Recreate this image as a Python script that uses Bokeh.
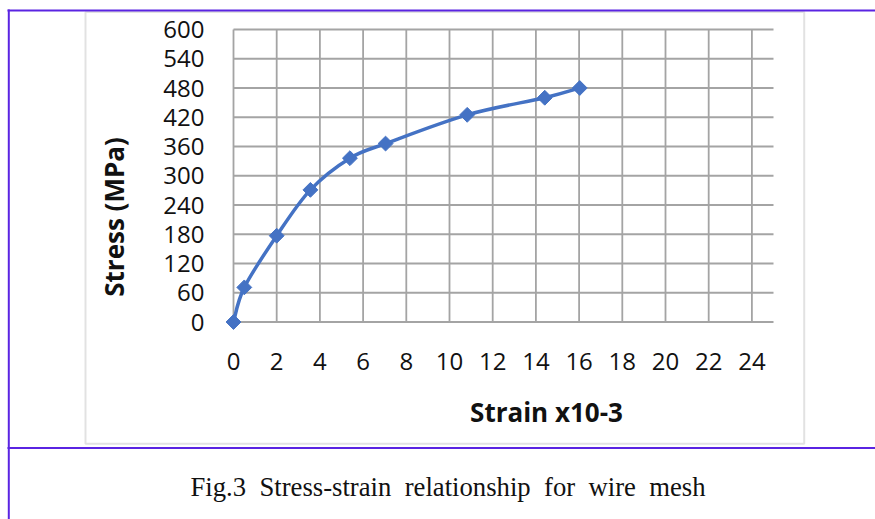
import numpy as np
from bokeh.plotting import figure
from bokeh.models import Range1d, FixedTicker, BoxAnnotation, Label, LinearAxis
from bokeh.embed import file_html
from bokeh.resources import INLINE

# ---- data ----
strain = [0.0, 0.5, 2.0, 3.56, 5.39, 7.04, 10.82, 14.41, 16.03]
stress = [0, 71, 177, 271, 336, 366, 425, 460, 480]
x_ticks = [0, 2, 4, 6, 8, 10, 12, 14, 16, 18, 20, 22, 24]
y_ticks = [0, 60, 120, 180, 240, 300, 360, 420, 480, 540, 600]
x_max = 25
y_max = 600
x_title = "Strain x10-3"
y_title = "Stress (MPa)"
caption_words = ["Fig.3", "Stress-strain", "relationship", "for", "wire", "mesh"]

# ---- layout (pixels) ----
W, H = 875, 519
PX_X0, PX_X1 = 233.0, 773.0     # pixel columns of x = 0 and x = x_max
PX_Y0, PX_Y1 = 321.5, 29.0      # pixel rows of y = 0 and y = y_max
sx = (PX_X1 - PX_X0) / x_max
sy = (PX_Y0 - PX_Y1) / y_max

BLUE = "#4472C4"
GRID = "#a4a4a4"
PURPLE = "#5a24e2"
TXT = "#111111"

p = figure(width=W, height=H, output_backend="svg", toolbar_location=None,
           x_axis_location=None, y_axis_location=None,
           x_range=Range1d(-PX_X0 / sx, x_max + (W - PX_X1) / sx),
           y_range=Range1d(-(H - PX_Y0) / sy, y_max + PX_Y1 / sy),
           min_border=0)
p.outline_line_color = None
p.grid.visible = False
p.background_fill_color = "white"
p.border_fill_color = "white"

xaxis = LinearAxis(fixed_location=0, ticker=FixedTicker(ticks=x_ticks))
yaxis = LinearAxis(fixed_location=0, ticker=FixedTicker(ticks=y_ticks))
for ax in (xaxis, yaxis):
    ax.axis_line_color = None
    ax.major_tick_line_color = None
    ax.minor_tick_line_color = None
    ax.major_label_text_font = "Open Sans"
    ax.major_label_text_font_size = "24px"
    ax.major_label_text_color = TXT
xaxis.major_label_standoff = 25
yaxis.major_label_standoff = 23
p.add_layout(xaxis, "below")
p.add_layout(yaxis, "left")

# grid lines drawn from the tick arrays
p.segment(x0=x_ticks, y0=[0] * len(x_ticks), x1=x_ticks, y1=[y_max] * len(x_ticks),
          line_color=GRID, line_width=1.8)
p.segment(x0=[0] * len(y_ticks), y0=y_ticks, x1=[x_max] * len(y_ticks), y1=y_ticks,
          line_color=GRID, line_width=1.8)

# smoothed line (Catmull-Rom style Bezier through the points)
P = np.column_stack([np.array(strain, float), np.array(stress, float)])
E = np.vstack([P[0], P, P[-1]])
c0 = P[:-1] + (E[2:-1] - E[:-3]) / 6.0
c1 = P[1:] - (E[3:] - E[1:-2]) / 6.0
p.bezier(x0=P[:-1, 0], y0=P[:-1, 1], x1=P[1:, 0], y1=P[1:, 1],
         cx0=c0[:, 0], cy0=c0[:, 1], cx1=c1[:, 0], cy1=c1[:, 1],
         line_color=BLUE, line_width=3.5)
p.scatter(strain, stress, marker="square", size=10.5, angle=np.pi / 4,
          fill_color=BLUE, line_color=BLUE)

# axis titles
p.add_layout(Label(x=113, y=216.5, x_units="canvas", y_units="canvas", text=y_title,
                   angle=np.pi / 2, text_align="center", text_baseline="alphabetic",
                   text_font="Open Sans", text_font_style="bold", text_font_size="26px",
                   text_color=TXT))
p.add_layout(Label(x=546, y=411, x_units="canvas", y_units="canvas", text=x_title,
                   text_align="center", text_baseline="alphabetic",
                   text_font="Open Sans", text_font_style="bold", text_font_size="26px",
                   text_color=TXT))

# chart box and outer frame
def cbox(l, r, t, b, **kw):
    return BoxAnnotation(left=l, right=r, top=t, bottom=b,
                         left_units="canvas", right_units="canvas",
                         top_units="canvas", bottom_units="canvas", **kw)

p.add_layout(cbox(85, 803.7, 11.5, 443.3, fill_color=None, fill_alpha=0,
                  line_color="#a0a0a0", line_width=2))
for (l, r, t, b) in [(7, W, 9, 11), (7.3, 9.3, 9, H), (7, W, 446.5, 448.5)]:
    p.add_layout(cbox(l, r, t, b, fill_color=PURPLE, fill_alpha=1.0, line_color=None))

caption = "\u00a0 ".join(caption_words)
p.add_layout(Label(x=447.5, y=486, x_units="canvas", y_units="canvas", text=caption,
                   text_align="center", text_baseline="alphabetic",
                   text_font="Liberation Serif", text_font_size="26.7px",
                   text_color=TXT))

open("out.html", "w").write(file_html(p, INLINE))
